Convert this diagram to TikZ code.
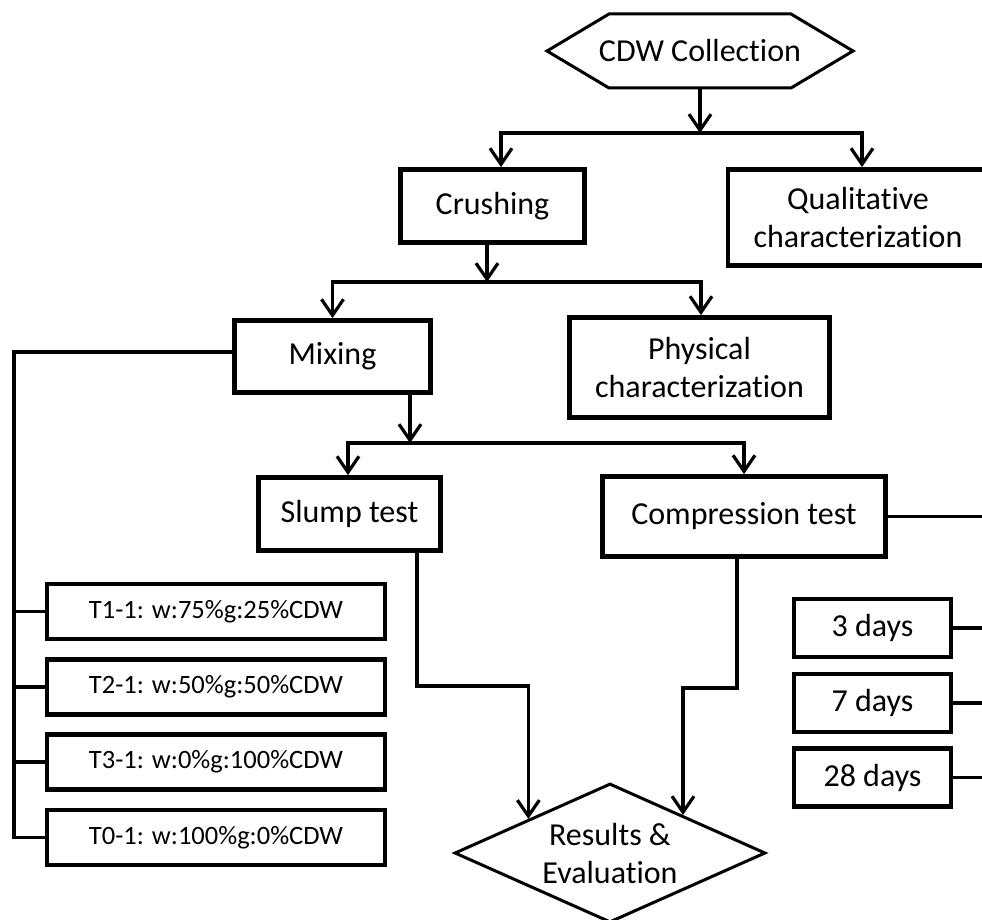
\documentclass[tikz,border=0pt]{standalone}
\usepackage{fontspec}
\setmainfont{Carlito}[Ligatures=NoCommon]
\usetikzlibrary{arrows.meta,calc,shapes.geometric}

\begin{document}
\begin{tikzpicture}[x=1pt,y=-1pt,>={Straight Barb[length=16pt,width=22pt]},line join=miter]
\useasboundingbox (0,0) rectangle (982,920);
\path[fill=white] (0,0) rectangle (982,920);
\tikzset{box/.style={draw,line width=4.8pt,inner sep=0pt,align=center,font=\fontsize{32}{38}\selectfont},mixbox/.style={box,line width=4.4pt,minimum width=338pt,minimum height=55pt,font=\fontsize{26.5}{32}\selectfont},daybox/.style={box,minimum width=157pt,minimum height=58pt},link/.style={draw,line width=3.2pt},outline/.style={draw,line width=3pt}}
% steps
\node[inner sep=0pt,minimum height=74pt,font=\fontsize{32}{38}\selectfont] (collect) at (700,51) {CDW Collection};
\draw[outline] ($(collect)+(-153,0)$) -- ($(collect)+(-91,-37)$) -- ($(collect)+(91,-37)$) -- ($(collect)+(153,0)$) -- ($(collect)+(91,37)$) -- ($(collect)+(-91,37)$) -- cycle;
\node[box,minimum width=184pt,minimum height=73pt] (crush) at (492.5,206) {Crushing};
\node[box,minimum width=260pt,minimum height=96pt] (qual) at (858,217.5) {Qualitative\\characterization};
\node[box,minimum width=196pt,minimum height=72pt] (mix) at (332.5,356.5) {Mixing};
\node[box,minimum width=260pt,minimum height=100pt] (phys) at (699.5,367.5) {Physical\\characterization};
\node[box,minimum width=182pt,minimum height=73pt] (slump) at (349.5,514) {Slump test};
\node[box,minimum width=283pt,minimum height=80pt] (comp) at (744,516.5) {Compression test};
\node[outline,diamond,aspect=2.2,minimum width=311pt,minimum height=139pt,inner sep=0pt,align=center,font=\fontsize{32}{38}\selectfont] (res) at (610,853) {Results \&\\Evaluation};
% mixes
\node[mixbox] (t1) at (216,611.5) {T1-1: w:75\%g:25\%CDW};
\node[mixbox] (t2) at (216,687) {T2-1: w:50\%g:50\%CDW};
\node[mixbox] (t3) at (216,762) {T3-1: w:0\%g:100\%CDW};
\node[mixbox] (t0) at (216,837.5) {T0-1: w:100\%g:0\%CDW};
% curing ages
\node[daybox] (d3) at (872.5,628) {3 days};
\node[daybox] (d7) at (872.5,703) {7 days};
\node[daybox] (d28) at (872.5,777.5) {28 days};
% connectors
\coordinate (s1) at (700,133);
\draw[link,->] (collect.south) -- (s1);
\draw[link,->] (s1) -| ([xshift=8.5pt]crush.north);
\draw[link,->] (s1) -| ([xshift=4pt]qual.north);
\coordinate (s2) at (487,282);
\draw[link,->] (crush.south -| s2) -- (s2);
\draw[link,->] (s2) -| (mix.north);
\draw[link,->] (s2) -| ([xshift=1.5pt]phys.north);
\coordinate (s3) at (410,443);
\draw[link,->] (mix.south -| s3) -- (s3);
\draw[link,->] (s3) -| ([xshift=-1.5pt]slump.north);
\draw[link,->] (s3) -| (comp.north);
\coordinate (resL) at ($(res.west)!0.48!(res.north)$);
\coordinate (resR) at ($(res.north)!0.465!(res.east)$);
\coordinate (lowL) at (417,686);
\coordinate (lowR) at (737,688);
\draw[link,->] (slump.south -| lowL) -- (lowL) -| (resL);
\draw[link,->] (comp.south -| lowR) -- (lowR) -| (resR);
\coordinate (rail) at (14,352);
\draw[link] (mix.west |- rail) -- (rail) |- (t0.west);
\foreach \n in {t1,t2,t3} \draw[link] (rail |- \n.west) -- (\n.west);
\coordinate (edge) at (990,0);
\draw[link] (comp.east) -- (comp.east -| edge);
\foreach \n in {d3,d7,d28} \draw[link] (\n.east) -- (\n.east -| edge);
\end{tikzpicture}
\end{document}
